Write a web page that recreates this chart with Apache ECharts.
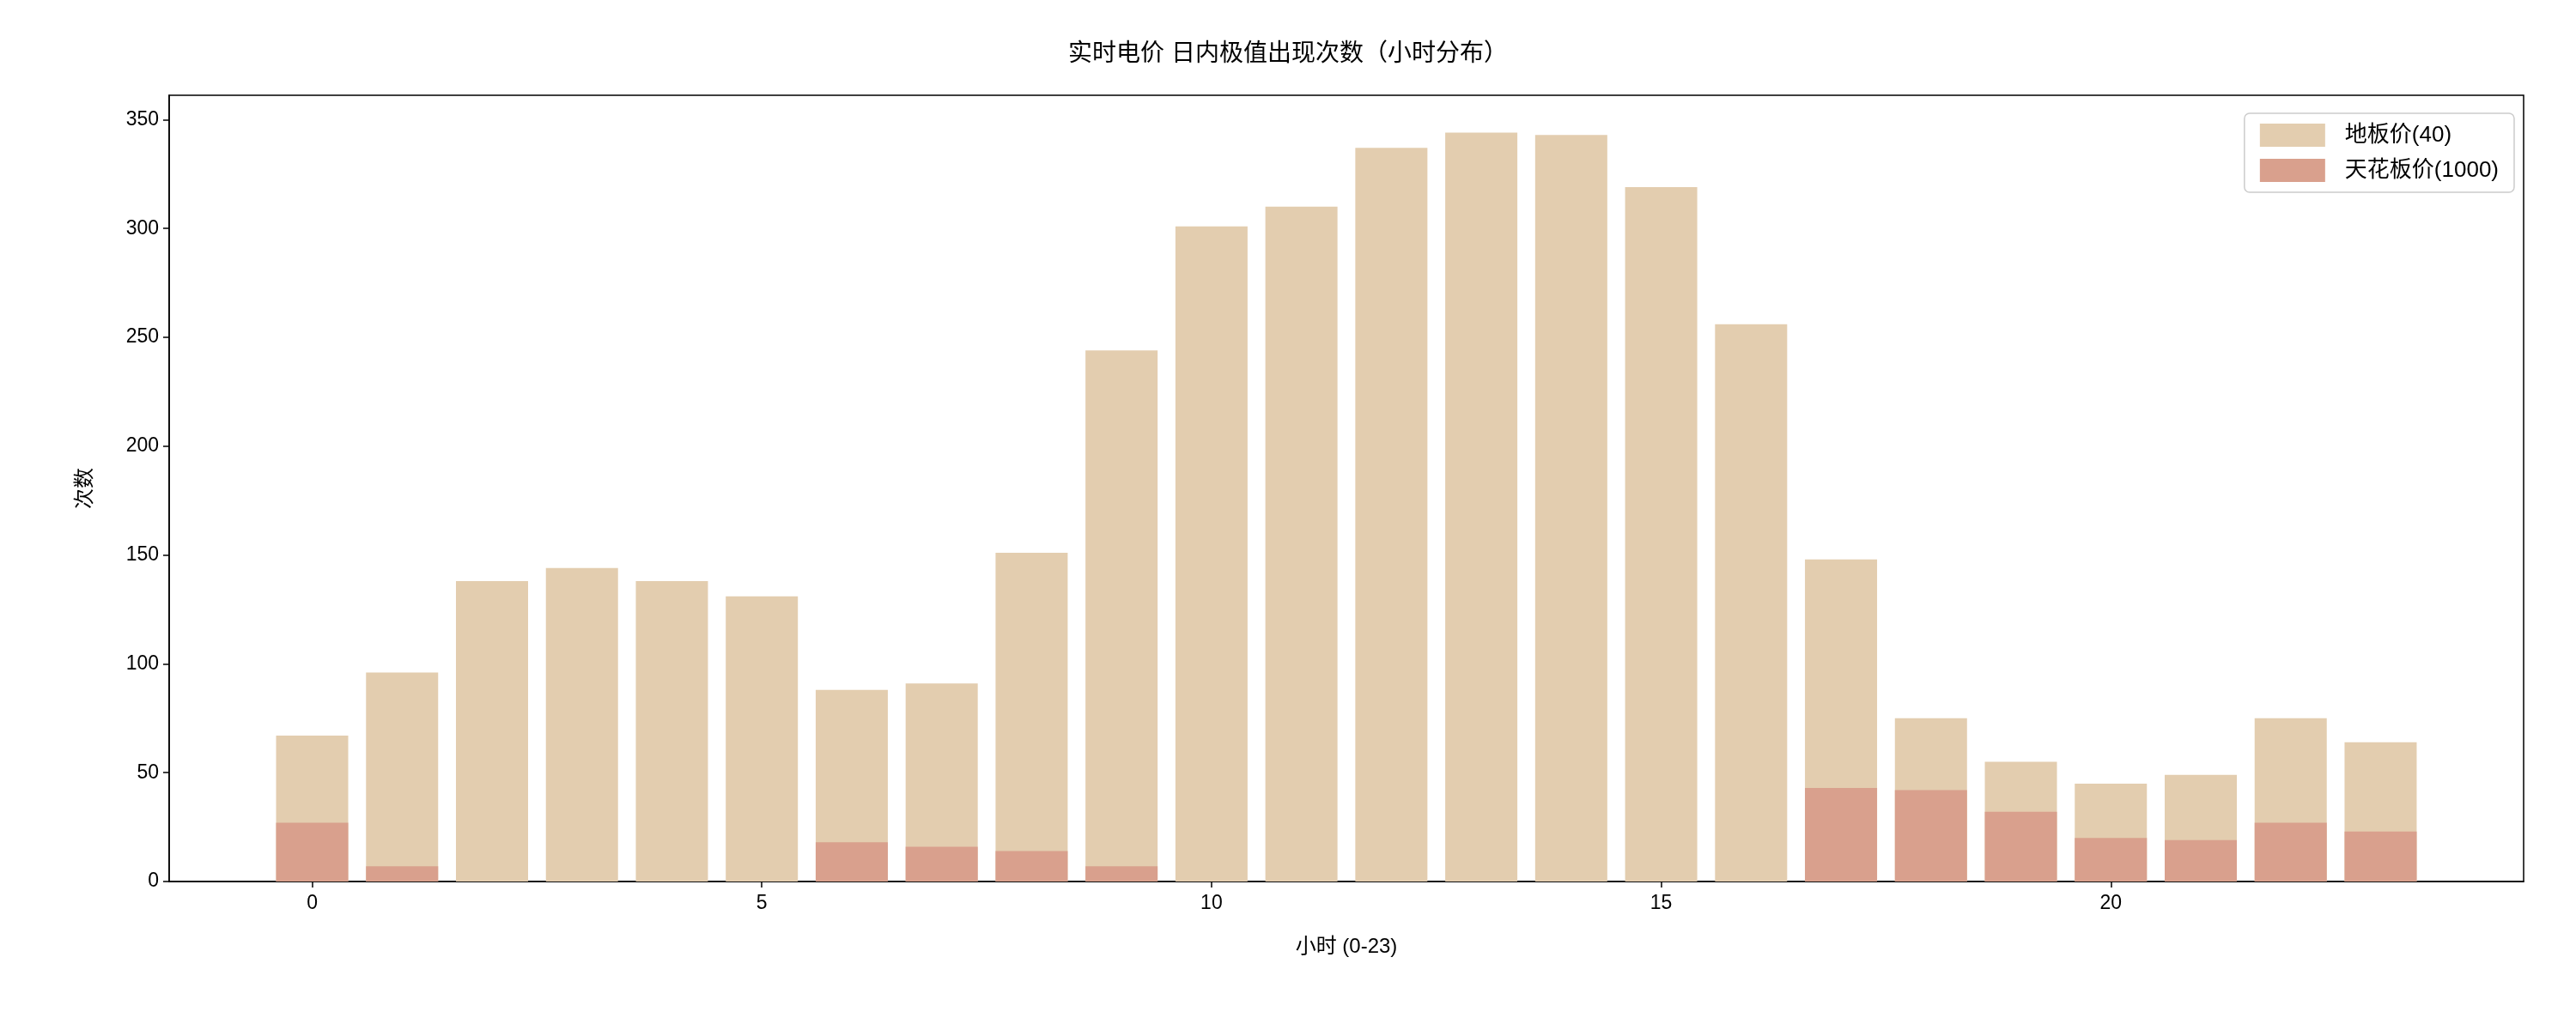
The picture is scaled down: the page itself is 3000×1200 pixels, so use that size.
<!DOCTYPE html>
<html><head><meta charset="utf-8">
<script src="https://cdn.jsdelivr.net/npm/echarts@6/dist/echarts.min.js"></script>
<style>html,body{margin:0;padding:0;background:#fff}#c{width:3000px;height:1200px}</style>
</head><body><div id="c"></div>
<script>
const hours = Array.from({length:24},(_,i)=>i);
const floorCounts = [67,96,138,144,138,131,88,91,151,244,301,310,337,344,343,319,256,148,75,55,45,49,75,64];
const ceilCounts  = [27,7,0,0,0,0,18,16,14,7,0,0,0,0,0,0,0,43,42,32,20,19,27,23];
const xTicks = [0,5,10,15,20];
const yTicks = [0,50,100,150,200,250,300,350];
const font = "'Liberation Sans','Noto Sans CJK SC',sans-serif";
const chart = echarts.init(document.getElementById('c'));
chart.setOption({
  animation:false,
  textStyle:{fontFamily:font},
  title:{text:'实时电价 日内极值出现次数（小时分布）',left:'center',top:44,textStyle:{fontFamily:font,fontSize:28,fontWeight:'normal',color:'#000'}},
  grid:{left:197,right:61,top:111,bottom:173,show:true,borderColor:'#000',borderWidth:1.5,backgroundColor:'transparent'},
  legend:{right:72,top:132,orient:'vertical',icon:'rect',itemWidth:76,itemHeight:27,itemGap:14,
    padding:[12,18,12,18],borderColor:'#ccc',borderWidth:1.5,borderRadius:6,
    textStyle:{fontSize:26,color:'#000',fontFamily:font,padding:[0,0,0,18]},
    data:['地板价(40)','天花板价(1000)']},
  xAxis:{type:'value',min:-1.59,max:24.59,name:'小时 (0-23)',nameLocation:'middle',nameGap:64,
    nameTextStyle:{fontSize:24,color:'#000'},
    axisLine:{onZero:false,lineStyle:{color:'#000',width:1.5}},
    axisTick:{show:true,length:7,lineStyle:{color:'#000',width:1.5},customValues:xTicks},
    axisLabel:{fontSize:23,color:'#000',margin:14,customValues:xTicks},
    splitLine:{show:false}},
  yAxis:{type:'value',min:0,max:361.2,name:'次数',nameLocation:'middle',nameGap:86,
    nameTextStyle:{fontSize:24,color:'#000'},
    axisLine:{show:true,onZero:false,lineStyle:{color:'#000',width:1.5}},
    axisTick:{show:true,length:7,lineStyle:{color:'#000',width:1.5},customValues:yTicks},
    axisLabel:{fontSize:23,color:'#000',margin:12,customValues:yTicks},
    splitLine:{show:false}},
  series:[
    {name:'地板价(40)',type:'bar',barWidth:84,barGap:'-100%',itemStyle:{color:'#e3cdaf'},
      data:hours.map((h,i)=>[h,floorCounts[i]])},
    {name:'天花板价(1000)',type:'bar',barWidth:84,barGap:'-100%',itemStyle:{color:'#d9a08d'},
      data:hours.map((h,i)=>[h,ceilCounts[i]])}
  ]
});
</script></body></html>
